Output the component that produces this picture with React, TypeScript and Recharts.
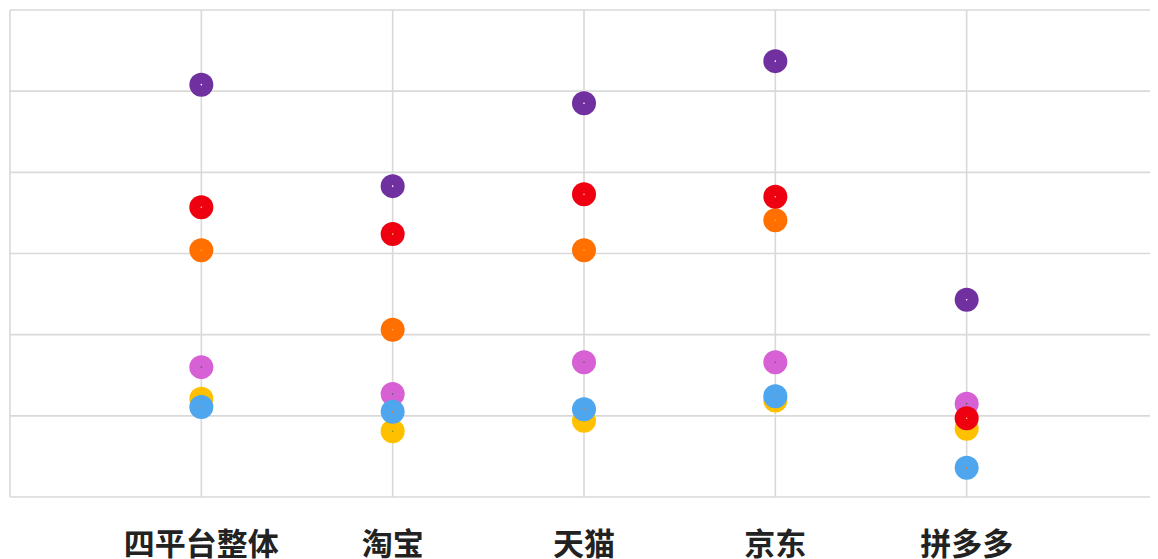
import { ScatterChart, Scatter, XAxis, YAxis, CartesianGrid } from 'recharts'

const platforms = ['四平台整体', '淘宝', '天猫', '京东', '拼多多']

const purpleValues = [5.08, 3.83, 4.85, 5.37, 2.43]
const redValues = [3.57, 3.24, 3.73, 3.7, 0.97]
const orangeValues = [3.04, 2.06, 3.04, 3.41, null]
const pinkValues = [1.6, 1.27, 1.66, 1.66, 1.15]
const yellowValues = [1.21, 0.81, 0.94, 1.19, 0.84]
const blueValues = [1.11, 1.05, 1.08, 1.24, 0.36]

const yTicks = [0, 1, 2, 3, 4, 5, 6]
const xTicks = [0, 1, 2, 3, 4, 5, 6]

const toPoints = (values: (number | null)[]) =>
  values
    .map((v, i) => ({ x: i + 1, y: v }))
    .filter((p) => p.y !== null)

const series = [
  { name: 'purple', values: purpleValues, color: '#7030a0', center: '#ffffff' },
  { name: 'orange', values: orangeValues, color: '#ff7000', center: '#ffb070' },
  { name: 'pink', values: pinkValues, color: '#d660d4', center: '#3a7a3a' },
  { name: 'yellow', values: yellowValues, color: '#ffc000', center: '#5a9a3a' },
  { name: 'red', values: redValues, color: '#ee0010', center: '#ffe070' },
  { name: 'blue', values: blueValues, color: '#4ea6ee', center: '#ff7000' },
]

const makeDot = (color: string, center: string) => (props: any) => {
  const { cx, cy } = props
  if (cx == null || cy == null) return <g />
  return (
    <g>
      <circle cx={cx} cy={cy} r={12} fill={color} />
      <circle cx={cx} cy={cy} r={0.8} fill={center} />
    </g>
  )
}

const renderTick = (props: any) => {
  const { x, y, payload } = props
  const label = platforms[payload.value - 1]
  if (!label) return <g />
  return (
    <text
      x={x}
      y={y + 42}
      textAnchor="middle"
      dominantBaseline="middle"
      fontSize={31}
      fontWeight={700}
      fill="#222222"
      fontFamily="'Noto Sans CJK SC', sans-serif"
    >
      {label}
    </text>
  )
}

export default function App(): JSX.Element {
  return (
    <div style={{ width: 1150, height: 551, background: '#ffffff' }}>
      <ScatterChart width={1150} height={551} margin={{ top: 2, right: 0, bottom: 0, left: 2 }}>
        <CartesianGrid stroke="#d9d9d9" strokeWidth={1.6} />
        <XAxis
          type="number"
          dataKey="x"
          domain={[0, 6]}
          ticks={xTicks}
          interval={0}
          axisLine={false}
          tickLine={false}
          tick={renderTick}
          height={62}
        />
        <YAxis type="number" dataKey="y" domain={[0, 6]} ticks={yTicks} hide />
        {series.map((s) => (
          <Scatter
            key={s.name}
            name={s.name}
            data={toPoints(s.values)}
            shape={makeDot(s.color, s.center)}
            isAnimationActive={false}
          />
        ))}
      </ScatterChart>
    </div>
  )
}
